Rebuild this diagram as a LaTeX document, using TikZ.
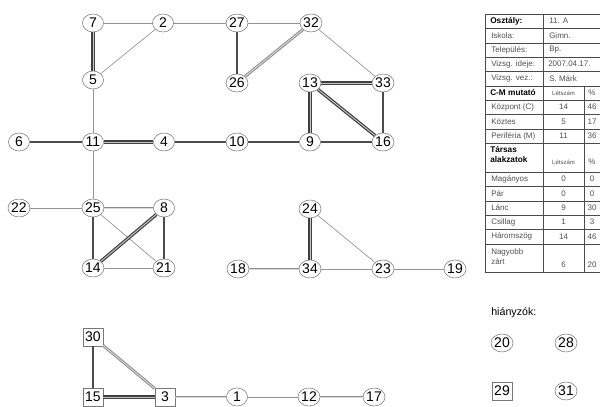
\documentclass[tikz,border=0pt]{standalone}
\usepackage{fontspec}
\setmainfont{Liberation Sans}
\usepackage{xcolor}
\definecolor{nodegrey}{RGB}{120,120,120}
\definecolor{tabgrey}{RGB}{80,80,80}
\usetikzlibrary{shapes.geometric}
\tikzset{
  pers/.style={draw=nodegrey, ellipse, fill=white, minimum width=15.8pt, minimum height=13.5pt, inner sep=0pt, font=\fontsize{10.5}{11}\selectfont},
  persq/.style={draw=nodegrey, rectangle, fill=white, minimum width=15pt, minimum height=13.5pt, inner sep=0pt, font=\fontsize{10.5}{11}\selectfont},
  weak/.style={draw=gray!85, line width=0.5pt},
  mid/.style={draw=black!70, line width=1.4pt},
  dblw/.style={draw=gray!90, double=gray!30, double distance=0.7pt, line width=0.75pt},
  dbls/.style={draw=black!75, double=gray!45, double distance=0.7pt, line width=0.9pt},
  tab/.style={draw=black!70, line width=0.6pt},
  cell/.style={anchor=west, inner sep=0pt, text=tabgrey, font=\fontsize{6}{7.5}\selectfont},
  cellb/.style={anchor=west, inner sep=0pt, align=left, font=\fontsize{6.2}{7.5}\selectfont\bfseries},
  num/.style={inner sep=0pt, text=tabgrey, font=\fontsize{6}{7.5}\selectfont},
  tiny/.style={inner sep=0pt, text=tabgrey, font=\fontsize{4.5}{5.5}\selectfont}
}
\begin{document}
\begin{tikzpicture}[x=0.75pt, y=-0.75pt]
  \useasboundingbox (0,0) rectangle (600,407);
  \clip (0,0) rectangle (600,407);
  % main group
  \node[pers] (n7) at (93,23) {7};
  \node[pers] (n2) at (163,23) {2};
  \node[pers] (n27) at (237,23) {27};
  \node[pers] (n32) at (311,23) {32};
  \node[pers] (n5) at (93,80) {5};
  \node[pers] (n26) at (237,83) {26};
  \node[pers] (n13) at (310,83) {13};
  \node[pers] (n33) at (383,83) {33};
  \node[pers] (n6) at (19,142) {6};
  \node[pers] (n11) at (93,142) {11};
  \node[pers] (n4) at (164,142) {4};
  \node[pers] (n10) at (237,142) {10};
  \node[pers] (n9) at (310,142) {9};
  \node[pers] (n16) at (383,142) {16};
  \node[pers] (n22) at (19,208) {22};
  \node[pers] (n25) at (93,208) {25};
  \node[pers] (n8) at (164,208) {8};
  \node[pers] (n14) at (93,268) {14};
  \node[pers] (n21) at (164,268) {21};
  % second group
  \node[pers] (n24) at (310,209) {24};
  \node[pers] (n18) at (238,269) {18};
  \node[pers] (n34) at (310,269) {34};
  \node[pers] (n23) at (383,269) {23};
  \node[pers] (n19) at (455,269) {19};
  % third group
  \node[persq] (n30) at (93,337) {30};
  \node[persq] (n15) at (93,397) {15};
  \node[persq] (n3) at (165,397) {3};
  \node[pers] (n1) at (237,397) {1};
  \node[pers] (n12) at (309,397) {12};
  \node[pers] (n17) at (374,397) {17};
  % ties
  \draw[weak] (n7) -- (n2);
  \draw[weak] (n2) -- (n5);
  \draw[weak] (n2) -- (n27);
  \draw[weak] (n27) -- (n32);
  \draw[weak] (n32) -- (n33);
  \draw[dbls] (n7) -- (n5);
  \draw[mid] (n27) -- (n26);
  \draw[dblw] (n26) -- (n32);
  \draw[weak] (n5) -- (n11);
  \draw[mid] (n6) -- (n11);
  \draw[dbls] (n11) -- (n4);
  \draw[mid] (n4) -- (n10);
  \draw[mid] (n10) -- (n9);
  \draw[mid] (n9) -- (n16);
  \draw[dbls] (n13) -- (n9);
  \draw[dbls] (n13) -- (n33);
  \draw[dbls] (n13) -- (n16);
  \draw[mid] (n33) -- (n16);
  \draw[weak] (n11) -- (n25);
  \draw[weak] (n22) -- (n25);
  \draw[dblw] (n25) -- (n8);
  \draw[mid] (n25) -- (n14);
  \draw[weak] (n25) -- (n21);
  \draw[dbls] (n8) -- (n14);
  \draw[mid] (n8) -- (n21);
  \draw[weak] (n14) -- (n21);
  \draw[dbls] (n24) -- (n34);
  \draw[weak] (n24) -- (n23);
  \draw[dblw] (n18) -- (n34);
  \draw[weak] (n34) -- (n23);
  \draw[weak] (n23) -- (n19);
  \draw[mid] (n30) -- (n15);
  \draw[dblw] (n30) -- (n3);
  \draw[dbls] (n15) -- (n3);
  \draw[dblw] (n3) -- (n1);
  \draw[weak] (n1) -- (n12);
  \draw[dblw] (n12) -- (n17);
  % table
  \draw[tab] (485,14) rectangle (604,272);
  \foreach \y in {28,43,57,71,86,100,114,129,143,172,186,201,215,229,244}
    \draw[tab] (485,\y) -- (604,\y);
  \draw[tab] (543,14) -- (543,272);
  \draw[tab] (584,86) -- (584,272);
  \node[cellb] (t1) at (490,21) {Osztály:};
  \node[cell] (t2) at (491,35.5) {Iskola:};
  \node[cell] (t3) at (491,50) {Település:};
  \node[cell] (t4) at (491,64) {Vizsg. ideje:};
  \node[cell] (t5) at (491,78.5) {Vizsg. vez.:};
  \node[cellb] (t6) at (490,93) {C-M mutató};
  \node[cell] (t7) at (491,107) {Központ (C)};
  \node[cell] (t8) at (491,121.5) {Köztes};
  \node[cell] (t9) at (491,136) {Periféria (M)};
  \node[cellb, anchor=north west] (t10) at (490,146) {Társas\\alakzatok};
  \node[cell] (t11) at (491,179) {Magányos};
  \node[cell] (t12) at (491,193.5) {Pár};
  \node[cell] (t13) at (491,208) {Lánc};
  \node[cell] (t14) at (491,222) {Csillag};
  \node[cell] (t15) at (491,236.5) {Háromszög};
  \node[cell, anchor=north west, align=left] (t16) at (491,248) {Nagyobb\\zárt};
  \node[cell] (v1) at (549,21) {11. A};
  \node[cell] (v2) at (549,35.5) {Gimn.};
  \node[cell] (v3) at (549,50) {Bp.};
  \node[cell] (v4) at (548,64) {2007.04.17.};
  \node[cell] (v5) at (549,78.5) {S. Márk};
  \node[tiny] (h1) at (563.5,93) {Létszám};
  \node[num] (h2) at (592,93) {\%};
  \node[num] (a1) at (563.5,107) {14};
  \node[num] (b1) at (592,107) {46};
  \node[num] (a2) at (563.5,121.5) {5};
  \node[num] (b2) at (592,121.5) {17};
  \node[num] (a3) at (563.5,136) {11};
  \node[num] (b3) at (592,136) {36};
  \node[tiny] (h3) at (563.5,162) {Létszám};
  \node[num] (h4) at (592,162) {\%};
  \node[num] (a4) at (563.5,179) {0};
  \node[num] (b4) at (592,179) {0};
  \node[num] (a5) at (563.5,193.5) {0};
  \node[num] (b5) at (592,193.5) {0};
  \node[num] (a6) at (563.5,208) {9};
  \node[num] (b6) at (592,208) {30};
  \node[num] (a7) at (563.5,222) {1};
  \node[num] (b7) at (592,222) {3};
  \node[num] (a8) at (563.5,236.5) {14};
  \node[num] (b8) at (592,236.5) {46};
  \node[num] (a9) at (563.5,265) {6};
  \node[num] (b9) at (592,265) {20};
  % missing
  \node[anchor=west, inner sep=0pt, font=\fontsize{8}{9}\selectfont] (miss) at (491,313) {hiányzók:};
  \node[pers] (n20) at (502,343) {20};
  \node[pers] (n28) at (566,343) {28};
  \node[persq] (n29) at (502,391) {29};
  \node[pers] (n31) at (566,391) {31};
\end{tikzpicture}
\end{document}
